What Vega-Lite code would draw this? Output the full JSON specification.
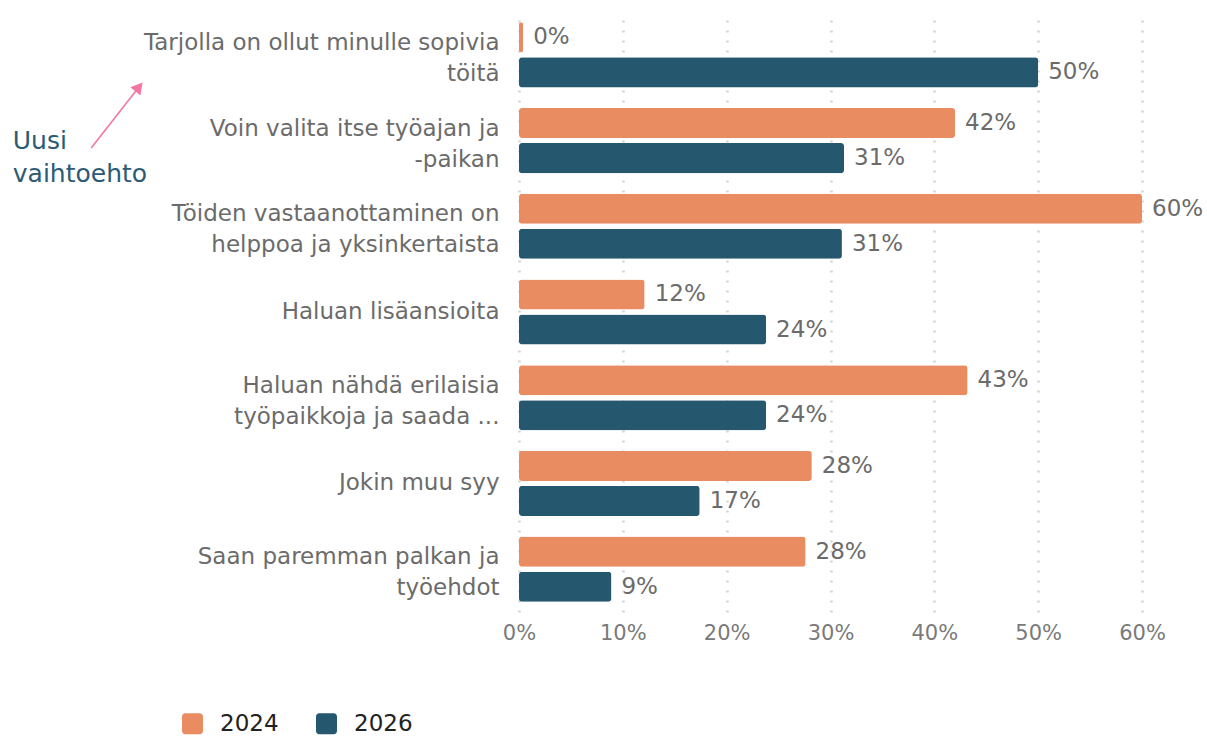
{
  "$schema": "https://vega.github.io/schema/vega-lite/v6.json",
  "width": 623,
  "height": 600,
  "autosize": "none",
  "padding": {"left": 519, "top": 12, "right": 65, "bottom": 124},
  "background": "white",
  "config": {
    "view": {"stroke": null},
    "font": "DejaVu Sans"
  },
  "datasets": {
    "main": [
      {"kysymys": "Tarjolla on ollut minulle sopivia\ntöitä", "vuosi": "2024", "osuus": 0.004},
      {"kysymys": "Tarjolla on ollut minulle sopivia\ntöitä", "vuosi": "2026", "osuus": 0.50},
      {"kysymys": "Voin valita itse työajan ja\n-paikan", "vuosi": "2024", "osuus": 0.42},
      {"kysymys": "Voin valita itse työajan ja\n-paikan", "vuosi": "2026", "osuus": 0.313},
      {"kysymys": "Töiden vastaanottaminen on\nhelppoa ja yksinkertaista", "vuosi": "2024", "osuus": 0.60},
      {"kysymys": "Töiden vastaanottaminen on\nhelppoa ja yksinkertaista", "vuosi": "2026", "osuus": 0.311},
      {"kysymys": "Haluan lisäansioita", "vuosi": "2024", "osuus": 0.121},
      {"kysymys": "Haluan lisäansioita", "vuosi": "2026", "osuus": 0.238},
      {"kysymys": "Haluan nähdä erilaisia\ntyöpaikkoja ja saada ...", "vuosi": "2024", "osuus": 0.432},
      {"kysymys": "Haluan nähdä erilaisia\ntyöpaikkoja ja saada ...", "vuosi": "2026", "osuus": 0.238},
      {"kysymys": "Jokin muu syy", "vuosi": "2024", "osuus": 0.282},
      {"kysymys": "Jokin muu syy", "vuosi": "2026", "osuus": 0.174},
      {"kysymys": "Saan paremman palkan ja\ntyöehdot", "vuosi": "2024", "osuus": 0.276},
      {"kysymys": "Saan paremman palkan ja\ntyöehdot", "vuosi": "2026", "osuus": 0.089}
    ],
    "note": [
      {"teksti": "Uusi", "ax": -0.4875, "ay": 1.51},
      {"teksti": "vaihtoehto", "ax": -0.4875, "ay": 1.885}
    ],
    "arrow": [
      {"ax": -0.412, "ay": 1.587, "ax2": -0.366, "ay2": 0.875}
    ],
    "head": [
      {"ax": -0.366, "ay": 0.875}
    ]
  },
  "layer": [
    {
      "data": {"name": "main"},
      "encoding": {
        "y": {
          "field": "kysymys",
          "type": "nominal",
          "sort": null,
          "scale": {"paddingInner": 0.24, "paddingOuter": 0.12},
          "axis": {
            "title": null,
            "domain": false,
            "ticks": false,
            "labelFontSize": 23,
            "labelColor": "#6b6b6b",
            "labelPadding": 20,
            "labelLineHeight": 31,
            "labelLimit": 500,
            "labelExpr": "split(datum.label, '\\n')",
            "labelOffset": {"condition": {"test": "indexof(datum.value, '\\n') >= 0", "value": -12}, "value": 0}
          }
        },
        "yOffset": {
          "field": "vuosi",
          "type": "nominal",
          "scale": {"paddingInner": 0.143, "paddingOuter": 0}
        },
        "x": {
          "field": "osuus",
          "type": "quantitative",
          "scale": {"domain": [0, 0.6], "nice": false},
          "axis": {
            "title": null,
            "format": ".0%",
            "values": [0, 0.1, 0.2, 0.3, 0.4, 0.5, 0.6],
            "grid": true,
            "gridDash": [2, 8],
            "gridColor": "#d4d4d4",
            "gridWidth": 2.5,
            "domain": false,
            "ticks": false,
            "labelFlush": false,
            "labelFontSize": 21,
            "labelColor": "#7a7a7a",
            "labelPadding": 10
          }
        }
      },
      "layer": [
        {
          "mark": {"type": "bar", "cornerRadius": 3},
          "encoding": {
            "color": {
              "field": "vuosi",
              "type": "nominal",
              "scale": {"domain": ["2024", "2026"], "range": ["#EA8C62", "#25576F"]},
              "legend": {
                "title": null,
                "orient": "none",
                "direction": "horizontal",
                "legendX": -338,
                "legendY": 700,
                "symbolType": "M -0.7 -1 H 0.7 A 0.3 0.3 0 0 1 1 -0.7 V 0.7 A 0.3 0.3 0 0 1 0.7 1 H -0.7 A 0.3 0.3 0 0 1 -1 0.7 V -0.7 A 0.3 0.3 0 0 1 -0.7 -1 Z",
                "symbolSize": 441,
                "symbolStrokeWidth": 0,
                "labelFontSize": 23,
                "labelColor": "#222222",
                "labelOffset": 16,
                "columnPadding": 36
              }
            }
          }
        },
        {
          "mark": {"type": "text", "align": "left", "baseline": "middle", "dx": 10, "fontSize": 23, "color": "#6b6b6b"},
          "encoding": {
            "text": {"field": "osuus", "type": "quantitative", "format": ".0%"}
          }
        }
      ]
    },
    {
      "data": {"name": "note"},
      "mark": {"type": "text", "align": "left", "baseline": "middle", "fontSize": 25, "color": "#2B5B75"},
      "encoding": {
        "x": {"field": "ax", "type": "quantitative", "scale": {"domain": [0, 0.6], "nice": false}},
        "y": {"field": "ay", "type": "quantitative", "scale": {"domain": [0, 7], "reverse": true, "nice": false, "zero": false}, "axis": null},
        "text": {"field": "teksti"}
      }
    },
    {
      "data": {"name": "arrow"},
      "mark": {"type": "rule", "color": "#F2789F", "strokeWidth": 1.6},
      "encoding": {
        "x": {"field": "ax", "type": "quantitative", "scale": {"domain": [0, 0.6], "nice": false}},
        "x2": {"field": "ax2"},
        "y": {"field": "ay", "type": "quantitative", "scale": {"domain": [0, 7], "reverse": true, "nice": false, "zero": false}, "axis": null},
        "y2": {"field": "ay2"}
      }
    },
    {
      "data": {"name": "head"},
      "mark": {"type": "point", "shape": "triangle-up", "filled": true, "color": "#F2789F", "size": 170, "angle": 39, "opacity": 1},
      "encoding": {
        "x": {"field": "ax", "type": "quantitative", "scale": {"domain": [0, 0.6], "nice": false}},
        "y": {"field": "ay", "type": "quantitative", "scale": {"domain": [0, 7], "reverse": true, "nice": false, "zero": false}, "axis": null}
      }
    }
  ],
  "resolve": {"scale": {"y": "independent"}}
}
